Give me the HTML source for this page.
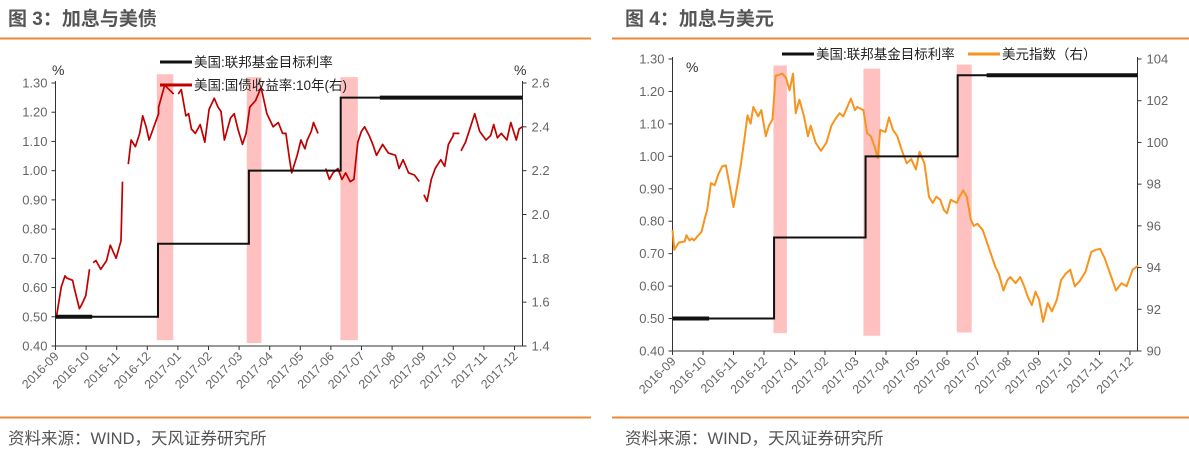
<!DOCTYPE html>
<html><head><meta charset="utf-8">
<style>
html,body{margin:0;padding:0;background:#fff;}
svg{display:block;font-family:"Liberation Sans","Noto Sans CJK SC",sans-serif;}
</style></head>
<body>
<svg id="c" width="1189" height="461" viewBox="0 0 1189 461" xmlns="http://www.w3.org/2000/svg">
<text x="8" y="25" font-size="19" font-weight="bold" fill="#555">图 3：加息与美债</text>
<line x1="0" y1="38.5" x2="591" y2="38.5" stroke="#e8893a" stroke-width="2"/>
<line x1="0" y1="417.5" x2="591" y2="417.5" stroke="#e8893a" stroke-width="2"/>
<text x="8" y="444" font-size="16.5" fill="#555">资料来源：WIND，天风证券研究所</text>
<text x="625" y="25" font-size="19" font-weight="bold" fill="#555">图 4：加息与美元</text>
<line x1="612" y1="38.5" x2="1189" y2="38.5" stroke="#e8893a" stroke-width="2"/>
<line x1="612" y1="417.5" x2="1189" y2="417.5" stroke="#e8893a" stroke-width="2"/>
<text x="625" y="444" font-size="16.5" fill="#555">资料来源：WIND，天风证券研究所</text>
<g id="g3"></g><g id="g4"></g>
</svg>
<script>
const monthLabels = ["2016-09","2016-10","2016-11","2016-12","2017-01","2017-02","2017-03","2017-04","2017-05","2017-06","2017-07","2017-08","2017-09","2017-10","2017-11","2017-12"];
const leftTicks = [0.40,0.50,0.60,0.70,0.80,0.90,1.00,1.10,1.20,1.30];
const fedStepsM3 = [0,3.35,6.32,9.32];
const fedStepsM4 = [0,3.33,6.33,9.35];
const fedLevels = [0.50,0.75,1.00,1.25];
const bands3 = [[3.31,3.85],[6.25,6.73],[9.31,9.88]];
const bands4 = [[3.31,3.75],[6.26,6.81],[9.32,9.81]];
const rightTicks3 = [1.4,1.6,1.8,2.0,2.2,2.4,2.6];
const y10M = [0.04,0.19,0.31,0.37,0.56,0.62,0.78,0.86,0.99,1.11,null,1.23,1.32,1.48,1.67,1.79,1.98,2.14,2.19,null,2.38,2.47,2.61,2.75,2.85,2.96,3.06,3.37,3.37,3.57,3.86,null,4.01,4.11,4.26,4.35,4.44,4.57,4.73,4.88,5.02,5.19,5.31,5.41,5.52,5.72,5.84,5.96,6.11,6.23,6.35,6.54,6.72,6.91,7.11,7.28,7.42,7.53,7.65,7.72,7.9,8.02,8.15,8.23,8.36,8.43,8.58,null,8.83,8.95,9.07,9.23,9.36,9.48,9.63,9.75,9.88,10.0,10.1,10.25,10.37,10.49,10.69,10.88,11.11,11.23,11.36,11.54,11.73,11.89,null,12.04,12.14,12.28,12.41,12.59,12.72,12.84,13.0,13.0,13.2,null,13.25,13.4,13.54,13.7,13.86,14.07,14.22,14.32,14.44,14.57,14.75,14.88,15.06,15.15,15.25];
const y10V = [1.54,1.67,1.72,1.71,1.70,1.66,1.57,1.59,1.63,1.75,null,1.78,1.79,1.75,1.79,1.86,1.80,1.88,2.15,null,2.23,2.34,2.31,2.37,2.45,2.40,2.34,2.46,2.49,2.59,2.55,null,2.55,2.57,2.45,2.46,2.39,2.37,2.41,2.33,2.48,2.53,2.49,2.47,2.34,2.44,2.46,2.39,2.32,2.37,2.49,2.52,2.58,2.46,2.40,2.42,2.37,2.37,2.25,2.19,2.27,2.34,2.30,2.34,2.38,2.42,2.37,null,2.21,2.16,2.19,2.21,2.16,2.19,2.15,2.16,2.33,2.38,2.40,2.36,2.32,2.27,2.32,2.28,2.27,2.21,2.25,2.19,2.18,2.15,null,2.09,2.06,2.16,2.21,2.25,2.22,2.32,2.36,2.37,2.37,null,2.29,2.33,2.39,2.46,2.38,2.34,2.36,2.41,2.35,2.37,2.34,2.42,2.34,2.39,2.40];
const rightTicks4 = [90,92,94,96,98,100,102,104];
const dxyM = [0,0.06,0.21,0.4,0.46,0.56,0.64,0.7,0.85,0.95,1.05,1.14,1.26,1.38,1.51,1.63,1.75,1.88,2.0,2.12,2.25,2.37,2.46,2.56,2.65,2.81,2.91,3.06,3.16,3.28,3.38,3.51,3.6,3.72,3.84,3.95,4.04,4.16,4.31,4.44,4.53,4.69,4.87,5.05,5.21,5.33,5.48,5.6,5.73,5.85,5.98,6.06,6.26,6.38,6.5,6.63,6.73,6.81,6.98,7.1,7.23,7.37,7.51,7.68,7.83,7.98,8.1,8.26,8.41,8.53,8.65,8.78,8.9,9.0,9.12,9.32,9.41,9.53,9.65,9.78,9.88,10.0,10.17,10.31,10.43,10.58,10.7,10.85,10.98,11.08,11.25,11.4,11.53,11.65,11.78,11.9,12.02,12.15,12.3,12.44,12.6,12.74,12.89,13.04,13.19,13.35,13.54,13.73,13.88,14.02,14.17,14.35,14.54,14.72,14.89,15.09,15.27,15.46,15.64];
const dxyV = [95.8,94.85,95.2,95.25,95.55,95.3,95.4,95.3,95.55,95.7,96.3,96.8,98.05,97.95,98.5,98.85,98.9,97.9,96.9,97.9,99.0,100.3,101.3,100.9,101.7,101.25,101.55,100.3,100.8,101.1,103.2,103.25,103.3,103.1,102.5,103.3,101.4,102.05,101.25,100.3,100.8,100.0,99.6,100.0,100.8,101.1,101.4,101.25,101.7,102.1,101.55,101.7,101.55,100.45,100.3,99.8,99.25,100.6,100.5,101.2,100.6,100.3,99.65,99.0,99.2,98.7,99.55,99.0,97.4,97.1,97.4,97.25,96.75,96.6,97.25,97.1,97.4,97.7,97.4,96.3,96.0,96.1,95.8,95.2,94.7,94.05,93.7,92.9,93.4,93.55,93.25,93.55,93.1,92.6,92.2,92.85,92.45,91.4,92.3,91.9,92.45,93.4,93.7,93.9,93.1,93.35,93.8,94.75,94.85,94.9,94.45,93.7,92.9,93.25,93.1,93.9,94.1];

const NS="http://www.w3.org/2000/svg";
function mk(parent,tag,attrs,text){const e=document.createElementNS(NS,tag);for(const k in attrs)e.setAttribute(k,attrs[k]);if(text!==undefined)e.textContent=text;parent.appendChild(e);return e;}

function build(g, cfg){
  const xS = m => cfg.x0 + m*cfg.tickStep;
  const yL = v => cfg.yBot - (v-0.4)/(0.9)*(cfg.yBot-cfg.yTop);
  const yR = v => cfg.yBot - (v-cfg.rMin)/(cfg.rMax-cfg.rMin)*(cfg.yBot-cfg.yTop);
  cfg.bands.forEach((b,i)=>{
    const r=mk(g,'rect',{x:xS(b[0]),y:yL(cfg.bandTop[i]),width:xS(b[1])-xS(b[0]),height:yL(cfg.bandBot[i])-yL(cfg.bandTop[i]),fill:'#ffc0c0'});
    
    
  });
  const ax=mk(g,'line',{x1:cfg.x0,y1:cfg.yTop-2,x2:cfg.x0,y2:cfg.yBot,stroke:'#333','stroke-width':1});
  
  
  const ax2=mk(g,'line',{x1:cfg.x1,y1:cfg.yTop-2,x2:cfg.x1,y2:cfg.yBot,stroke:'#333','stroke-width':1});
  
  
  const xa=mk(g,'line',{x1:cfg.x0,y1:cfg.yBot,x2:cfg.x1,y2:cfg.yBot,stroke:'#333','stroke-width':1});
  
  
  leftTicks.forEach(v=>{
    const y=yL(v);
    mk(g,'line',{x1:cfg.x0-4,y1:y,x2:cfg.x0,y2:y,stroke:'#333'});
    const t=mk(g,'text',{x:cfg.x0-8,y:y+4.5,'text-anchor':'end','font-size':13,fill:'#666'},v.toFixed(2));
    
    
  });
  cfg.rTicks.forEach(v=>{
    const y=yR(v);
    mk(g,'line',{x1:cfg.x1,y1:y,x2:cfg.x1+4,y2:y,stroke:'#333'});
    const t=mk(g,'text',{x:cfg.x1+9,y:y+4.5,'font-size':13,fill:'#666'},cfg.rFmt(v));
    
    
  });
  monthLabels.forEach((lab,i)=>{
    const x=xS(i);
    mk(g,'line',{x1:x,y1:cfg.yBot,x2:x,y2:cfg.yBot+4,stroke:'#333'});
    const t=mk(g,'text',{x:x+4,y:cfg.yBot+11,'text-anchor':'end','font-size':12.5,fill:'#666',transform:`rotate(-45 ${x+4} ${cfg.yBot+11})`},lab);
    
    
  });
  let d='',pen=false;
  cfg.sM.forEach((m,i)=>{
    if(m===null){pen=false;return;}
    d+=(pen?'L':'M')+xS(m).toFixed(1)+','+yR(cfg.sV[i]).toFixed(1);pen=true;
  });
  const s=mk(g,'path',{d:d,fill:'none',stroke:cfg.sColor,'stroke-width':cfg.sW,'stroke-linejoin':'round'});
  
  
  let fd='';
  cfg.fed.forEach((m,i)=>{
    const y=yL(fedLevels[i]);
    fd+=(i===0?'M':'L')+xS(m)+','+(i===0?y:yL(fedLevels[i-1]))+(i===0?'':'L'+xS(m)+','+y);
  });
  fd+='L'+cfg.x1+','+yL(fedLevels[fedLevels.length-1]);
  const f=mk(g,'path',{d:fd,fill:'none',stroke:'#111','stroke-width':2});
  
  
  const f1=mk(g,'line',{x1:xS(0),y1:yL(fedLevels[0]),x2:xS(1.2),y2:yL(fedLevels[0]),stroke:'#111','stroke-width':4});
  
  
  const f2=mk(g,'line',{x1:xS(cfg.thickEnd),y1:yL(fedLevels[3]),x2:cfg.x1,y2:yL(fedLevels[3]),stroke:'#111','stroke-width':4});
  
  
}

const g3=document.getElementById('g3');
build(g3,{x0:55.5,x1:522.5,tickStep:30.6,yTop:83,yBot:346,rMin:1.4,rMax:2.6,rTicks:rightTicks3,rFmt:v=>v.toFixed(1),
  bands:bands3,bandTop:[1.33,1.32,1.32],bandBot:[0.42,0.41,0.42],sM:y10M,sV:y10V,sColor:'#c00000',sW:1.7,sName:'us-10y-yield-line',fed:fedStepsM3,thickEnd:10.6});
const g4=document.getElementById('g4');
build(g4,{x0:672.5,x1:1137.5,tickStep:30.5,yTop:59,yBot:351,rMin:90,rMax:104,rTicks:rightTicks4,rFmt:v=>String(v),
  bands:bands4,bandTop:[1.28,1.27,1.283],bandBot:[0.455,0.447,0.457],sM:dxyM,sV:dxyV,sColor:'#f7941d',sW:2,sName:'dollar-index-line',fed:fedStepsM4,thickEnd:10.3});

const svg=document.getElementById('c');
function leg(x,y,color,text,name){
  const l=mk(svg,'line',{x1:x,y1:y,x2:x+32,y2:y,stroke:color,'stroke-width':3});
  
  
  const t=mk(svg,'text',{x:x+34,y:y+5,'font-size':13.5,fill:'#222'},text);
  
  
}
leg(160,62,'#111','美国:联邦基金目标利率','legend-fed-rate-3');
leg(160,85,'#c00000','美国:国债收益率:10年(右)','legend-10y-yield');
leg(782,54,'#111','美国:联邦基金目标利率','legend-fed-rate-4');
leg(968,54,'#f7941d','美元指数（右）','legend-dollar-index');
const u1=mk(svg,'text',{x:52,y:75,'font-size':14,fill:'#333'},'%');


const u2=mk(svg,'text',{x:514,y:75,'font-size':14,fill:'#333'},'%');


const u3=mk(svg,'text',{x:686,y:72,'font-size':14,fill:'#333'},'%');


</script>
</body></html>
